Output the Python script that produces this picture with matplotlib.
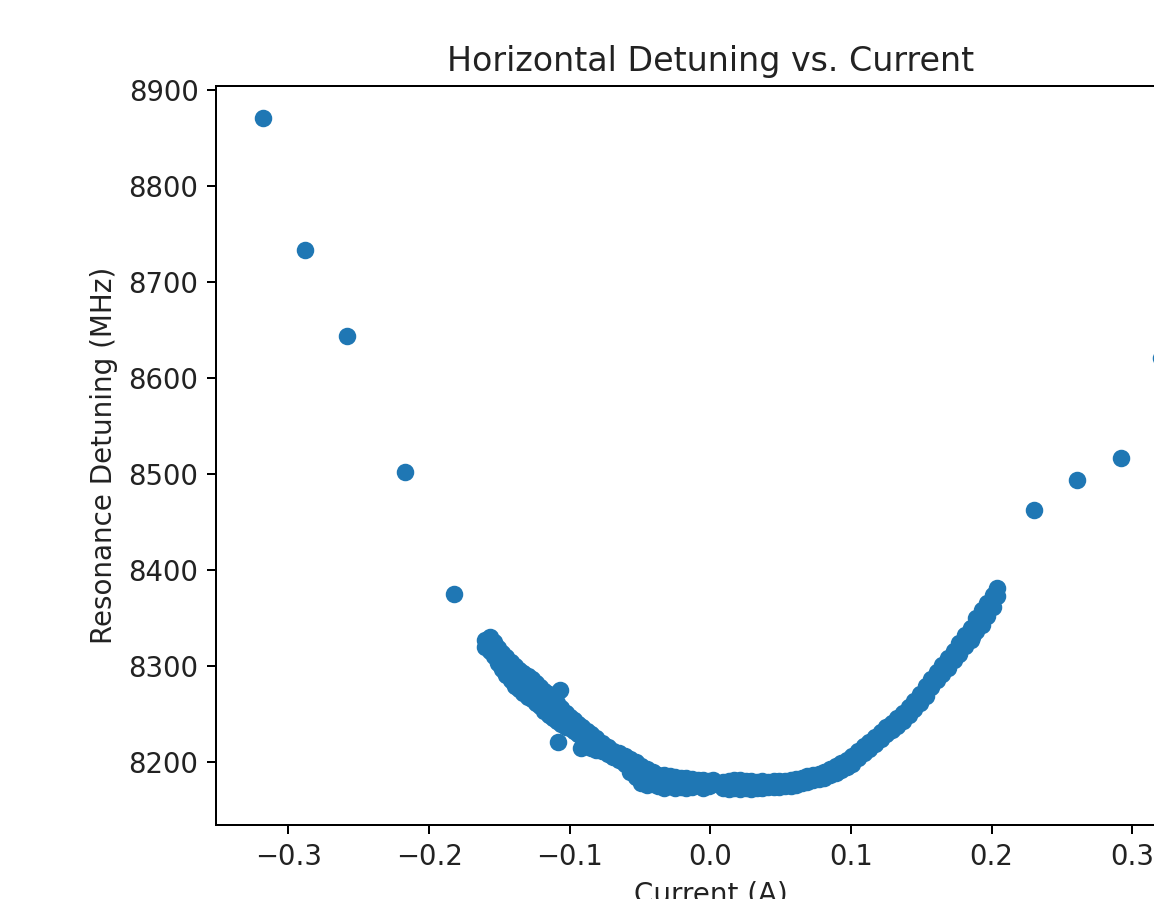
import matplotlib

matplotlib.use('Agg')

import matplotlib.pyplot as plt

# isolated sweep points (A, MHz)
sparse_current = [-0.318, -0.288, -0.2584, -0.2169, -0.1825, 0.2304, 0.2608, 0.2921, 0.3206]
sparse_detuning = [8870.5, 8733.3, 8643.8, 8502.4, 8375.0, 8462.5, 8493.8, 8516.4, 8620.8]

# dense scan, negative side (upper / lower edge of the band)
neg_current = [-0.160, -0.157, -0.154, -0.151, -0.148, -0.145, -0.142, -0.139, -0.136, -0.133,
               -0.130, -0.127, -0.124, -0.121, -0.118, -0.115, -0.112, -0.109, -0.106, -0.103,
               -0.100, -0.097, -0.094, -0.091, -0.088, -0.085, -0.081, -0.077, -0.073, -0.069,
               -0.065, -0.061, -0.057, -0.053, -0.049, -0.045, -0.041, -0.037, -0.033, -0.029,
               -0.025, -0.021, -0.017, -0.013, -0.009, -0.005, -0.001, 0.002]
neg_upper = [8327, 8330, 8325, 8319, 8314, 8309, 8304, 8300, 8296, 8293,
             8290, 8286, 8282, 8278, 8274, 8271, 8266, 8262, 8256, 8251,
             8247, 8244, 8240, 8236, 8232, 8229, 8225, 8220, 8216, 8212,
             8209, 8206, 8203, 8200, 8196, 8193, 8190, 8187, 8186, 8185,
             8184, 8183, 8183, 8182, 8181, 8181, 8180, 8181]
neg_lower = [8320, 8316, 8310, 8303, 8297, 8291, 8285, 8279, 8276, 8272,
             8268, 8266, 8262, 8258, 8253, 8249, 8246, 8243, 8240, 8237,
             8235, 8232, 8229, 8226, 8222, 8215, 8213, 8211, 8208, 8205,
             8202, 8198, 8190, 8184, 8178, 8176, 8177, 8175, 8173, 8175,
             8173, 8174, 8173, 8174, 8176, 8173, 8175, 8177]

# dense scan, positive side
pos_current = [0.009, 0.013, 0.017, 0.021, 0.025, 0.029, 0.033, 0.037, 0.041, 0.045,
               0.049, 0.053, 0.057, 0.061, 0.065, 0.069, 0.073, 0.077, 0.081, 0.085,
               0.089, 0.093, 0.097, 0.101, 0.105, 0.109, 0.113, 0.117, 0.121, 0.125,
               0.129, 0.133, 0.137, 0.141, 0.145, 0.149, 0.153, 0.157, 0.161, 0.165,
               0.169, 0.173, 0.177, 0.181, 0.185, 0.189, 0.193, 0.197, 0.201, 0.204]
pos_upper = [8179, 8180, 8181, 8181, 8180, 8180, 8179, 8180, 8179, 8180,
             8180, 8180, 8181, 8182, 8183, 8185, 8187, 8188, 8190, 8193,
             8196, 8199, 8202, 8206, 8212, 8217, 8221, 8226, 8231, 8236,
             8241, 8246, 8251, 8257, 8264, 8271, 8279, 8287, 8294, 8301,
             8308, 8316, 8324, 8332, 8340, 8350, 8358, 8366, 8374, 8381]
pos_lower = [8173, 8172, 8173, 8172, 8173, 8172, 8173, 8173, 8174, 8174,
             8174, 8175, 8175, 8176, 8178, 8179, 8181, 8182, 8183, 8186,
             8189, 8192, 8195, 8198, 8204, 8209, 8214, 8219, 8224, 8229,
             8233, 8238, 8243, 8249, 8255, 8262, 8269, 8278, 8285, 8292,
             8298, 8306, 8313, 8321, 8327, 8336, 8343, 8352, 8362, 8373]

# stray points sticking out of the band
stray_current = [-0.107, -0.108, -0.092, 0.186]
stray_detuning = [8275, 8221, 8215, 8330]

current = (sparse_current + neg_current + neg_current + pos_current + pos_current
           + stray_current)
detuning = (sparse_detuning + neg_upper + neg_lower + pos_upper + pos_lower
            + stray_detuning)

# the screenshot was scaled up a little, so text is a bit bigger than default
plt.rcParams['font.size'] = 11
plt.rcParams['xtick.labelsize'] = 11
plt.rcParams['ytick.labelsize'] = 11
plt.rcParams['axes.titlesize'] = 13.3
plt.rcParams['axes.labelsize'] = 11.1
plt.rcParams['text.color'] = '#222222'
plt.rcParams['xtick.labelcolor'] = '#222222'
plt.rcParams['ytick.labelcolor'] = '#222222'
plt.rcParams['axes.labelcolor'] = '#222222'

fig = plt.figure(figsize=(1154 / 180, 899 / 180), dpi=180)
# axes run past the right edge, like the cropped screenshot
ax = fig.add_axes([0.1872, 0.0823, 0.8570, 0.8220])
ax.scatter(current, detuning)
ax.set_xlim(-0.3515, 0.3517)
ax.set_ylim(8134.4, 8904.2)
ax.set_title('Horizontal Detuning vs. Current')
ax.set_xlabel('Current (A)')
ax.set_ylabel('Resonance Detuning (MHz)')

fig.savefig('out.png', dpi=180)
